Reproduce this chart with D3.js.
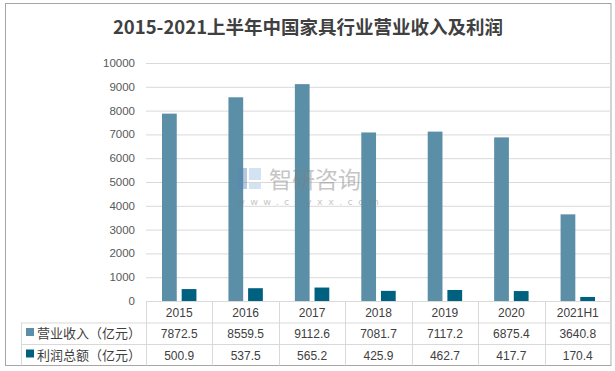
<!DOCTYPE html>
<html>
<head>
<meta charset="utf-8">
<script src="https://d3js.org/d3.v7.min.js"></script>
<style>
  body { margin: 0; background: #fff; }
  svg { display: block; font-family: "Noto Sans CJK SC", "Liberation Sans", sans-serif; }
</style>
</head>
<body>
<svg width="615" height="371"></svg>
<script>
const categories = ['2015', '2016', '2017', '2018', '2019', '2020', '2021H1'];
const revenue = [7872.5, 8559.5, 9112.6, 7081.7, 7117.2, 6875.4, 3640.8];
const profit = [500.9, 537.5, 565.2, 425.9, 462.7, 417.7, 170.4];
const yTicks = [0, 1000, 2000, 3000, 4000, 5000, 6000, 7000, 8000, 9000, 10000];
const seriesNames = ['营业收入（亿元）', '利润总额（亿元）'];
const seriesColors = ['#5B8FA8', '#00607F'];

const svg = d3.select('svg');
const plotLeft = 146, plotRight = 611, plotTop = 63, plotBottom = 301;
const tableLeft = 21, rowH = 21.5;

// outer border
svg.append('rect')
  .attr('x', 5.5).attr('y', 3.5).attr('width', 605.5).attr('height', 362)
  .attr('fill', '#fff').attr('stroke', '#A6A6A6').attr('stroke-width', 1);

svg.append('text')
  .attr('x', 308).attr('y', 34)
  .attr('text-anchor', 'middle')
  .attr('font-size', 18.5).attr('font-weight', 'bold').attr('fill', '#404040')
  .text('2015-2021上半年中国家具行业营业收入及利润');

const x0 = d3.scaleBand().domain(categories).range([plotLeft, plotRight]).padding(0);
const x1 = d3.scaleBand().domain([0, 1])
  .range([16, x0.bandwidth() - 16]).paddingInner(0.25);
const y = d3.scaleLinear().domain([0, 10000]).range([plotBottom, plotTop]);

// gridlines
const grid = svg.append('g')
  .attr('transform', `translate(${plotLeft},0)`)
  .call(d3.axisLeft(y).tickValues(yTicks).tickSize(-(plotRight - plotLeft)).tickFormat(''));
grid.select('.domain').remove();
grid.selectAll('line').attr('stroke', '#D9D9D9');

// y labels
svg.append('g').selectAll('text')
  .data(yTicks).join('text')
  .attr('x', 135).attr('y', d => y(d) + 4)
  .attr('text-anchor', 'end')
  .attr('font-family', 'Liberation Sans, sans-serif')
  .attr('font-size', 11.5).attr('fill', '#595959')
  .text(d => d);

// bars
const groups = svg.append('g').selectAll('g')
  .data(categories).join('g')
  .attr('transform', d => `translate(${x0(d)},0)`);
[revenue, profit].forEach((vals, s) => {
  groups.append('rect')
    .attr('x', x1(s))
    .attr('width', x1.bandwidth())
    .attr('y', (d, i) => y(vals[i]))
    .attr('height', (d, i) => plotBottom - y(vals[i]))
    .attr('fill', seriesColors[s]);
});

// watermark (sits over the bars)
const wm = svg.append('g').attr('opacity', 0.45);
wm.append('rect').attr('x', 238).attr('y', 168).attr('width', 9).attr('height', 21).attr('fill', '#5E86B8');
wm.append('rect').attr('x', 249).attr('y', 168).attr('width', 12).attr('height', 12).attr('fill', '#9CC3E6');
wm.append('rect').attr('x', 249).attr('y', 183).attr('width', 12).attr('height', 6).attr('fill', '#9CC3E6');
wm.append('text').attr('x', 269).attr('y', 188)
  .attr('font-size', 23).attr('fill', '#7F7F7F').text('智研咨询');
wm.append('text').attr('x', 237).attr('y', 205)
  .attr('font-size', 9.5).attr('letter-spacing', 5.4).attr('fill', '#7F7F7F')
  .attr('font-family', 'DejaVu Sans, sans-serif')
  .text('www.chyxx.com');

// data table
const tbl = svg.append('g').attr('stroke', '#D9D9D9').attr('stroke-width', 1);
tbl.append('line').attr('x1', plotLeft).attr('x2', plotRight).attr('y1', plotBottom + 0.5).attr('y2', plotBottom + 0.5);
[1, 2].forEach(r => {
  tbl.append('line').attr('x1', tableLeft).attr('x2', plotRight)
    .attr('y1', plotBottom + r * rowH + 0.5).attr('y2', plotBottom + r * rowH + 0.5);
});
tbl.append('line').attr('x1', tableLeft + 0.5).attr('x2', tableLeft + 0.5)
  .attr('y1', plotBottom + rowH).attr('y2', plotBottom + 3 * rowH);
categories.concat([null]).forEach((c, i) => {
  const xx = Math.round(plotLeft + i * x0.bandwidth()) + 0.5;
  tbl.append('line').attr('x1', xx).attr('x2', xx).attr('y1', plotBottom).attr('y2', plotBottom + 3 * rowH);
});

const cellFont = 'Liberation Sans, sans-serif';
svg.append('g').selectAll('text')
  .data(categories).join('text')
  .attr('x', d => x0(d) + x0.bandwidth() / 2).attr('y', plotBottom + 15.5)
  .attr('text-anchor', 'middle').attr('font-family', cellFont)
  .attr('font-size', 12).attr('fill', '#404040')
  .text(d => d);

[revenue, profit].forEach((vals, s) => {
  const ry = plotBottom + (s + 1) * rowH + 15.5;
  svg.append('rect').attr('x', 26).attr('y', ry - 10).attr('width', 8).attr('height', 8)
    .attr('fill', seriesColors[s]);
  svg.append('text').attr('x', 37).attr('y', ry)
    .attr('font-size', 13).attr('fill', '#404040').text(seriesNames[s]);
  svg.append('g').selectAll('text')
    .data(vals).join('text')
    .attr('x', (d, i) => x0(categories[i]) + x0.bandwidth() / 2).attr('y', ry)
    .attr('text-anchor', 'middle').attr('font-family', cellFont)
    .attr('font-size', 12).attr('fill', '#404040')
    .text(d => d.toFixed(1));
});
</script>
</body>
</html>
